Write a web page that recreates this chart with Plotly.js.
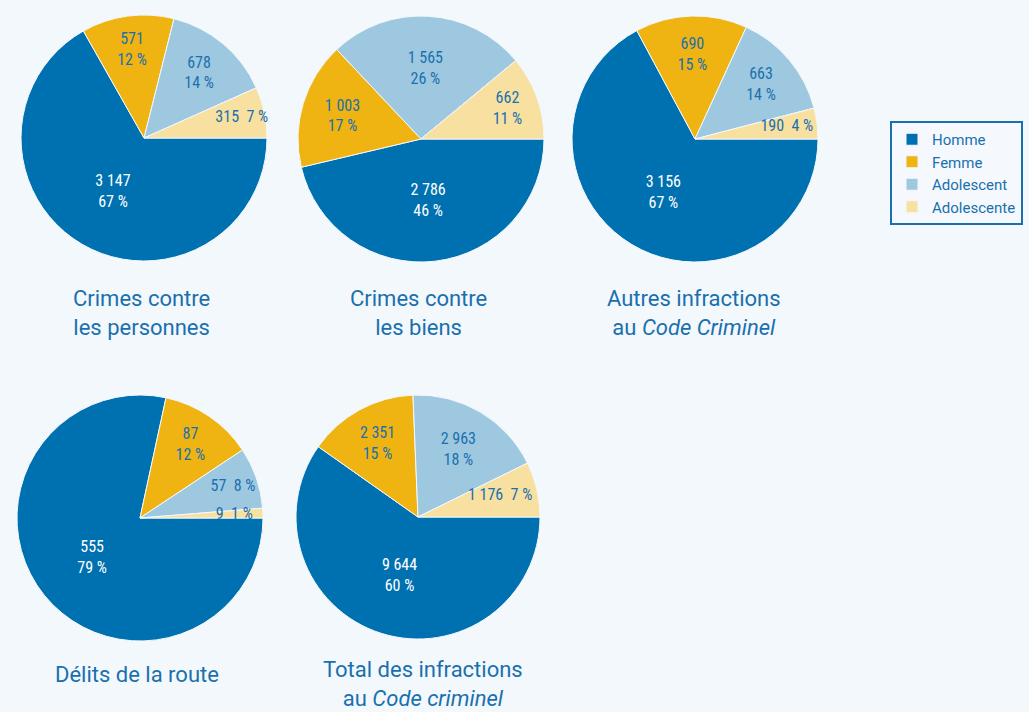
<!DOCTYPE html>
<html>
<head>
<meta charset="utf-8">
<script src="https://cdn.plot.ly/plotly-3.0.1.min.js"></script>
<style>
  html, body { margin: 0; padding: 0; background: #f3f8fc; }
  #plotDiv { width: 1029px; height: 712px; }
</style>
</head>
<body>
<div id="plotDiv"></div>
<script>
// categories (legend order)
var categories = ['Homme', 'Femme', 'Adolescent', 'Adolescente'];

// counts per pie
var personnes = [3147, 571, 678, 315];
var biens = [2786, 1003, 1565, 662];
var autres = [3156, 690, 663, 190];
var route = [555, 87, 57, 9];
var total = [9644, 2351, 2963, 1176];

// percent labels as printed
var pctPersonnes = [67, 12, 14, 7];
var pctBiens = [46, 17, 26, 11];
var pctAutres = [67, 15, 14, 4];
var pctRoute = [79, 12, 8, 1];
var pctTotal = [60, 15, 18, 7];

var titles = [
  'Crimes contre<br>les personnes',
  'Crimes contre<br>les biens',
  'Autres infractions<br>au <i>Code Criminel</i>',
  'Délits de la route',
  'Total des infractions<br>au <i>Code criminel</i>'
];

var colors = ['#0071b0', '#efb312', '#9dc8e0', '#f8e0a1'];
var labelBlue = '#1a70ae';
var W = 1029, H = 712;
var NB = '\u00a0';

function fmt(n){
  return String(n).replace(/\B(?=(\d{3})+(?!\d))/g, ' ');
}

// lay: per slice, -1 = two lines, n >= 0 = one line with n trailing pad spaces
function labels(vals, pct, lay){
  var out = [];
  for (let i = 0; i < vals.length; i++){
    if (lay[i] < 0) out.push(fmt(vals[i]) + '<br>' + pct[i] + ' %');
    else out.push(fmt(vals[i]) + NB + NB + pct[i] + NB + '%' + NB.repeat(lay[i]));
  }
  return out;
}

// domain from pixel box (left, top, size)
function dom(left, top, size){
  return {
    x: [left / W, (left + size) / W],
    y: [1 - (top + size) / H, 1 - top / H]
  };
}

function pieTrace(vals, pct, lay, d){
  return {
    type: 'pie',
    labels: categories,
    values: vals,
    text: labels(vals, pct, lay),
    textinfo: 'text',
    textposition: 'inside',
    insidetextorientation: 'horizontal',
    insidetextfont: { color: ['#ffffff', labelBlue, labelBlue, labelBlue], size: 16,
      family: 'Liberation Sans Narrow, Roboto Condensed, Roboto, sans-serif' },
    sort: false,
    direction: 'clockwise',
    rotation: 90,
    hoverinfo: 'label+value',
    marker: { colors: colors, line: { color: '#f3f8fc', width: 1 } },
    domain: d
  };
}

var data = [
  pieTrace(personnes, pctPersonnes, [-1, -1, -1, 1], dom(21, 15, 246)),
  pieTrace(biens, pctBiens, [-1, -1, -1, -1], dom(298, 16, 246)),
  pieTrace(autres, pctAutres, [-1, -1, -1, 9], dom(572, 16, 246)),
  pieTrace(route, pctRoute, [-1, -1, 0, 13], dom(17, 395, 246)),
  pieTrace(total, pctTotal, [-1, -1, -1, 8], dom(296, 395, 244))
];

var titlePos = [[141, 284], [418, 284], [694, 284], [137, 660], [423, 655]];
var annotations = [];
for (let i = 0; i < titles.length; i++){
  annotations.push({
    text: titles[i],
    x: titlePos[i][0] / W,
    y: 1 - titlePos[i][1] / H,
    xref: 'paper', yref: 'paper',
    xanchor: 'center', yanchor: 'top',
    showarrow: false,
    font: { family: 'Roboto, sans-serif', size: 22, color: '#1a70ae' }
  });
}

var layout = {
  width: W,
  height: H,
  margin: { l: 0, r: 0, t: 0, b: 0 },
  paper_bgcolor: '#f3f8fc',
  plot_bgcolor: '#f3f8fc',
  showlegend: true,
  uniformtext: { mode: 'show', minsize: 16 },
  legend: {
    x: 890 / W, y: 1 - 121 / H,
    xanchor: 'left', yanchor: 'top',
    bgcolor: '#f5f9fd',
    bordercolor: '#1a70ae',
    borderwidth: 2,
    font: { family: 'Liberation Sans Narrow, Roboto, sans-serif', size: 15, color: '#1a70ae' }
  },
  annotations: annotations
};

Plotly.newPlot('plotDiv', data, layout, { displayModeBar: false, staticPlot: true });
</script>
</body>
</html>
